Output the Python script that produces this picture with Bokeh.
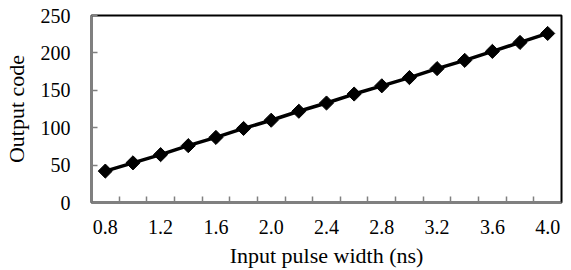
from bokeh.plotting import figure
from bokeh.models import FixedTicker, Range1d
from bokeh.embed import file_html
from bokeh.resources import INLINE

pulse_width = [0.8, 1.0, 1.2, 1.4, 1.6, 1.8, 2.0, 2.2, 2.4, 2.6, 2.8, 3.0, 3.2, 3.4, 3.6, 3.8, 4.0]
output_code = [42, 53, 64, 76, 87, 99, 110, 122, 133, 145, 156, 167, 179, 190, 202, 214, 226]
x_tick_labels = [0.8, 1.2, 1.6, 2.0, 2.4, 2.8, 3.2, 3.6, 4.0]
y_ticks = [0, 50, 100, 150, 200, 250]
x_boundaries = [0.9, 1.1, 1.3, 1.5, 1.7, 1.9, 2.1, 2.3, 2.5, 2.7, 2.9, 3.1, 3.3, 3.5, 3.7, 3.9]

FONT = "Liberation Serif"

p = figure(width=571, height=270, output_backend="svg", toolbar_location=None,
           x_range=Range1d(0.7, 4.1), y_range=Range1d(0, 250),
           min_border_left=91, min_border_right=10, min_border_top=15, min_border_bottom=67)
p.background_fill_color = "white"
p.border_fill_color = "white"
p.outline_line_color = "black"
p.outline_line_width = 2
p.grid.visible = False

p.line(pulse_width, output_code, line_color="black", line_width=3.5)
p.scatter(pulse_width, output_code, marker="square", angle=0.785398, size=10,
          fill_color="black", line_color="black", line_width=1)

xa = p.xaxis[0]
xa.ticker = FixedTicker(ticks=x_tick_labels, minor_ticks=x_boundaries)
xa.major_tick_line_color = None
xa.minor_tick_in = 6
xa.minor_tick_out = 0
xa.minor_tick_line_color = "#808080"
xa.minor_tick_line_width = 1.5
xa.axis_line_color = "#808080"
xa.axis_line_width = 2
xa.major_label_standoff = 11
xa.major_label_text_font = FONT
xa.major_label_text_font_size = "20px"
xa.major_label_text_color = "black"
xa.axis_label = "Input pulse width (ns)"
xa.axis_label_text_font = FONT
xa.axis_label_text_font_size = "22px"
xa.axis_label_text_font_style = "normal"
xa.axis_label_text_color = "black"
xa.axis_label_standoff = 6
xa.major_label_overrides = {v: f"{v:.1f}" for v in x_tick_labels}

ya = p.yaxis[0]
ya.ticker = FixedTicker(ticks=y_ticks, minor_ticks=[])
ya.major_tick_in = 6
ya.major_tick_out = 0
ya.major_tick_line_color = "#808080"
ya.major_tick_line_width = 1.5
ya.minor_tick_line_color = None
ya.axis_line_color = "#808080"
ya.axis_line_width = 2
ya.major_label_standoff = 21
ya.major_label_text_font = FONT
ya.major_label_text_font_size = "20px"
ya.major_label_text_color = "black"
ya.axis_label = "Output code"
ya.axis_label_text_font = FONT
ya.axis_label_text_font_size = "22px"
ya.axis_label_text_font_style = "normal"
ya.axis_label_text_color = "black"
ya.axis_label_standoff = 9

open("out.html", "w").write(file_html(p, INLINE))
